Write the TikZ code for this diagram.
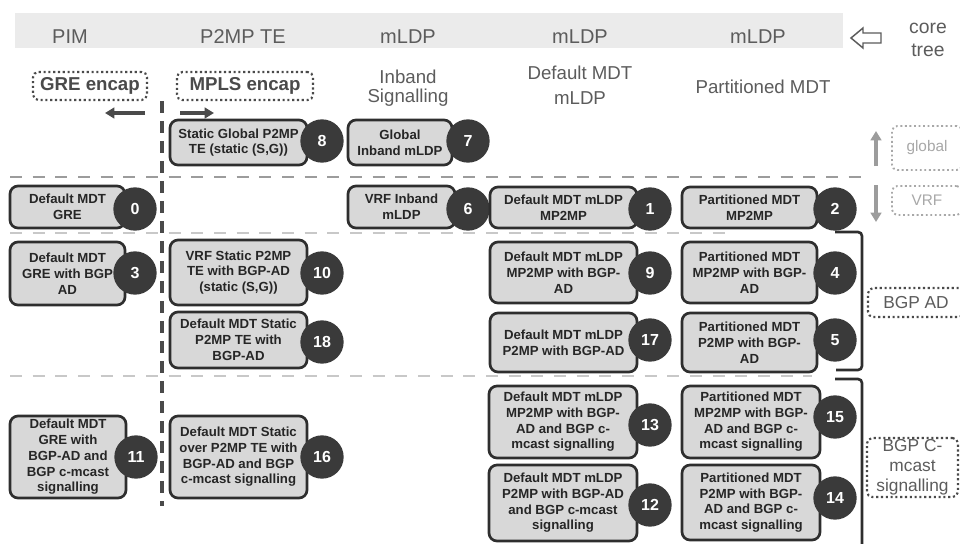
\documentclass[tikz,border=0pt]{standalone}
\usepackage{fontspec}
\setmainfont{Liberation Sans}
\usetikzlibrary{arrows.meta}

\definecolor{boxfill}{HTML}{D8D8D8}
\definecolor{boxline}{HTML}{2E2E2E}
\definecolor{badgefill}{HTML}{3A3A3A}
\definecolor{headband}{HTML}{EBEBEB}
\definecolor{headtext}{HTML}{5C5C5C}
\definecolor{sepdark}{HTML}{9C9C9C}
\definecolor{seplight}{HTML}{C8C8C8}
\definecolor{rulecol}{HTML}{4A4A4A}
\definecolor{lighttag}{HTML}{A8A8A8}

\tikzset{
  x=0.75pt, y=-0.75pt,
  cbox/.style={draw=boxline, fill=boxfill, line width=2pt, rounded corners=6pt,
    inner sep=0pt, align=center, text=black!85,
    font=\fontsize{9.9}{11.8}\selectfont\bfseries},
  badge/.style={circle, fill=badgefill, minimum size=32.5pt, inner sep=0pt,
    text=white, font=\fontsize{12}{14}\selectfont\bfseries},
  headlbl/.style={text=headtext, font=\fontsize{15}{17}\selectfont},
  sublbl/.style={text=headtext, align=center, font=\fontsize{14}{17}\selectfont},
  encaptag/.style={draw=rulecol, dotted, line width=1.6pt, rounded corners=4pt,
    inner sep=0pt, text=rulecol, font=\fontsize{14}{16}\selectfont\bfseries},
  scopetag/.style={draw=lighttag, dotted, line width=1.4pt, rounded corners=4pt,
    inner sep=0pt, text=lighttag, font=\fontsize{11.5}{13}\selectfont},
  adtag/.style={draw=rulecol, dotted, line width=1.6pt, rounded corners=4pt,
    inner sep=0pt, align=center, text=headtext, font=\fontsize{13}{15}\selectfont},
  sepline/.style={line width=2pt, dash pattern=on 9pt off 8pt},
  encaparrow/.style={draw=rulecol, line width=2.6pt, -{Triangle[length=7pt,width=8pt]}},
  scopearrow/.style={draw=sepdark, line width=2.6pt, -{Triangle[length=7pt,width=8pt]}},
  bracket/.style={draw=boxline, line width=2pt, rounded corners=3pt},
}

% rectangle node spanning left, top, right, bottom: style, name, l, t, r, b, text
\newcommand\spanbox[7]{%
  \node[#1, minimum width={(#5-#3)*0.75pt}, minimum height={(#6-#4)*0.75pt}]
    (#2) at ({(#3+#5)/2},{(#4+#6)/2}) {#7};}
% feature box with its number badge: name, l, t, r, b, badge x, badge y, number, text
\newcommand\featbox[9]{%
  \spanbox{cbox}{#1}{#2}{#3}{#4}{#5}{#9}
  \node[badge] (#1n) at (#6,#7) {#8};}

\begin{document}
\begin{tikzpicture}
\useasboundingbox[fill=white] (0,0) rectangle (960,543);

% core tree header band
\fill[headband] (15,13) rectangle (843,48);
\node[headlbl] (hpim)  at (70,37)  {PIM};
\node[headlbl] (hte)   at (243,37) {P2MP TE};
\node[headlbl] (hin)   at (408,37) {mLDP};
\node[headlbl] (hdef)  at (580,37) {mLDP};
\node[headlbl] (hpart) at (758,37) {mLDP};
\draw[headtext, line width=1.1pt, line join=miter]
  (851,38) -- (863,28) -- (863,33) -- (881,33) -- (881,43) -- (863,43) -- (863,48) -- cycle;
\node[sublbl, font=\fontsize{14.5}{17}\selectfont] (core) at (928,40) {core\\tree};

% column sub-headings
\spanbox{encaptag}{gre}{33}{72}{147}{100}{GRE encap}
\spanbox{encaptag}{mpls}{177}{72}{313}{100}{MPLS encap}
\node[sublbl, font=\fontsize{14}{14.5}\selectfont] (inband) at (408,88) {Inband\\Signalling};
\node[sublbl, font=\fontsize{14}{19}\selectfont] (defmdt) at (580,85) {Default MDT\\mLDP};
\node[sublbl] (partmdt) at (763,87) {Partitioned MDT};

\coordinate (gl1) at (145,113);
\coordinate (gl2) at (105,113);
\coordinate (ml1) at (180,113);
\coordinate (ml2) at (214,113);
\draw[encaparrow] (gl1) -- (gl2);
\draw[encaparrow] (ml1) -- (ml2);

% row separators
\draw[sepline, draw=sepdark] (10,177) -- (868,177);
\draw[sepline, draw=seplight, line width=1.8pt] (10,233) -- (730,233);
\draw[sepline, draw=seplight, line width=1.8pt] (10,376) -- (812,376);

% GRE / MPLS divider
\draw[rulecol, line width=2.4pt, dash pattern=on 9pt off 6pt] (162,101) -- (162,506);

% brackets grouping the BGP rows
\coordinate (ba1) at (835,232);
\coordinate (ba2) at (862,232);
\coordinate (ba3) at (862,370);
\coordinate (ba4) at (836,370);
\draw[bracket] (ba1) -- (ba2) -- (ba3) -- (ba4);
\coordinate (bc1) at (835,379);
\coordinate (bc2) at (862,379);
\coordinate (bc3) at (862,545);
\draw[bracket] (bc1) -- (bc2) -- (bc3);

% global / VRF scope
\coordinate (up1) at (876,166);
\coordinate (up2) at (876,131);
\coordinate (dn1) at (876,185);
\coordinate (dn2) at (876,222);
\draw[scopearrow] (up1) -- (up2);
\draw[scopearrow] (dn1) -- (dn2);
\spanbox{scopetag}{global}{892}{126}{962}{170}{global}
\spanbox{scopetag}{vrf}{892}{186}{962}{215}{VRF}
\spanbox{adtag}{bgpad}{868}{288}{964}{317}{BGP AD}
\spanbox{adtag}{cmcast}{867}{438}{958}{497}{BGP C-\\mcast\\signalling}

% feature boxes
\featbox{f8}{170}{120}{307}{165}{322}{141}{8}{Static Global P2MP\\TE (static (S,G))}
\featbox{f7}{348}{120}{452}{165}{468}{141}{7}{Global\\Inband mLDP}
\featbox{f0}{10}{186}{125}{228}{135}{209}{0}{Default MDT\\GRE}
\featbox{f6}{348}{186}{455}{228}{468}{209}{6}{VRF Inband\\mLDP}
\featbox{f1}{490}{187}{637}{228}{650}{209}{1}{Default MDT mLDP\\MP2MP}
\featbox{f2}{682}{187}{817}{228}{835}{209}{2}{Partitioned MDT\\MP2MP}
\featbox{f3}{10}{242}{125}{305}{135}{273}{3}{Default MDT\\GRE with BGP\\AD}
\featbox{f10}{170}{240}{307}{305}{322}{273}{10}{VRF Static P2MP\\TE with BGP-AD\\(static (S,G))}
\featbox{f18}{170}{312}{307}{368}{322}{342}{18}{Default MDT Static\\P2MP TE with\\BGP-AD}
\featbox{f9}{490}{242}{637}{303}{650}{273}{9}{Default MDT mLDP\\MP2MP with BGP-\\AD}
\featbox{f4}{682}{242}{817}{303}{835}{273}{4}{Partitioned MDT\\MP2MP with BGP-\\AD}
\featbox{f17}{490}{313}{637}{372}{650}{340}{17}{Default MDT mLDP\\P2MP with BGP-AD}
\featbox{f5}{682}{313}{817}{372}{835}{340}{5}{Partitioned MDT\\P2MP with BGP-\\AD}
\featbox{f11}{10}{416}{126}{498}{136}{457}{11}{Default MDT\\GRE with\\BGP-AD and\\BGP c-mcast\\signalling}
\featbox{f16}{170}{416}{307}{498}{322}{457}{16}{Default MDT Static\\over P2MP TE with\\BGP-AD and BGP\\c-mcast signalling}
\featbox{f13}{489}{386}{637}{458}{650}{425}{13}{Default MDT mLDP\\MP2MP with BGP-\\AD and BGP c-\\mcast signalling}
\featbox{f15}{682}{386}{820}{458}{835}{417}{15}{Partitioned MDT\\MP2MP with BGP-\\AD and BGP c-\\mcast signalling}
\featbox{f12}{489}{465}{637}{541}{650}{505}{12}{Default MDT mLDP\\P2MP with BGP-AD\\and BGP c-mcast\\signalling}
\featbox{f14}{682}{465}{820}{540}{835}{498}{14}{Partitioned MDT\\P2MP with BGP-\\AD and BGP c-\\mcast signalling}

\end{tikzpicture}
\end{document}
